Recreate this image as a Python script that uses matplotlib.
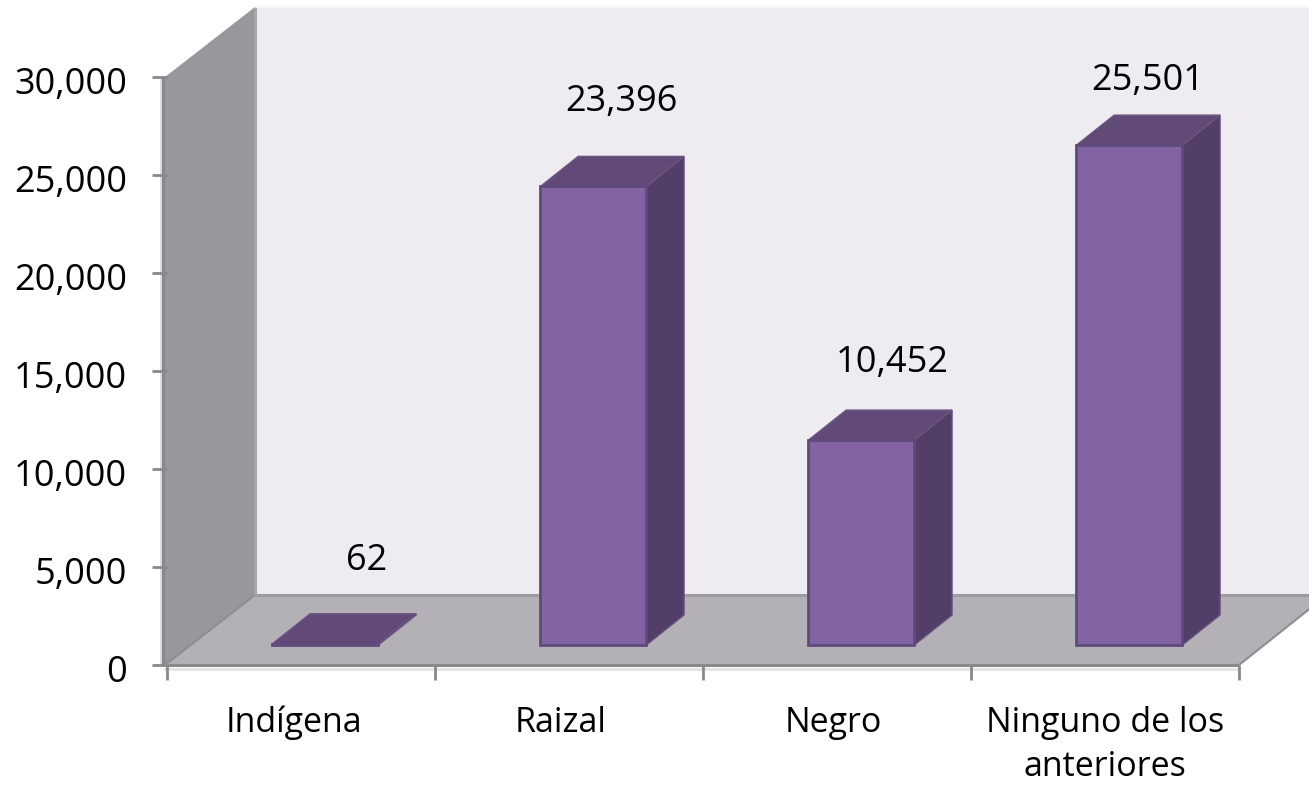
import matplotlib
matplotlib.use("Agg")
import matplotlib.pyplot as plt
from matplotlib.patches import Polygon

categories = ["Indígena", "Raizal", "Negro", "Ninguno de los\nanteriores"]
values = [62, 23396, 10452, 25501]
value_labels = ["62", "23,396", "10,452", "25,501"]
y_ticks = [0, 5000, 10000, 15000, 20000, 25000, 30000]
y_tick_labels = ["0", "5,000", "10,000", "15,000", "20,000", "25,000", "30,000"]
label_offsets = [(41, 83), (27, 84), (30, 77), (18, 64)]
cat_offsets = [-7, -8, -4, 0]

W, H = 1309, 785
plt.rcParams["font.family"] = ["Open Sans", "DejaVu Sans"]
fig = plt.figure(figsize=(W / 100, H / 100), dpi=100)
L, R, T, B = 167, 1239, 77, 665
ax = fig.add_axes([L / W, 1 - B / H, (R - L) / W, (B - T) / H])
ax.set_xlim(0, 4)
ax.set_ylim(0, 30000)
ax.axis("off")

CAT_PX = (R - L) / 4
VAL_PX = (B - T) / 30000
DX = 88 / CAT_PX      # full depth in category units
DY = 70 / VAL_PX      # full depth in value units
X_PX = 1 / CAT_PX
Y_PX = 1 / VAL_PX


def p(x, v, d=0.0):
    return (x + d * DX, v + d * DY)


def poly(points, fc, ec="none", lw=0.0, z=1):
    ax.add_patch(Polygon(points, closed=True, fc=fc, ec=ec, lw=lw, zorder=z,
                         clip_on=False, joinstyle="miter"))


def seg(a, b, color, lw, z=3):
    ax.plot([a[0], b[0]], [a[1], b[1]], color=color, lw=lw, zorder=z, clip_on=False,
            solid_capstyle="butt")


# walls
poly([(-2 * X_PX, 0), (-2 * X_PX, 30000), p(0, 30000, 1), p(0, 0, 1)], "#99979b", z=1)
poly([p(0, 0, 1), p(0, 30000, 1), p(4, 30000, 1), p(4, 0, 1)], "#eeebf1", z=1)
poly([(-2 * X_PX, 0), p(0, 0, 1), p(4, 0, 1), p(4, 0)], "#b3b1b5", z=2)
seg(p(0, 0, 1), p(4, 0, 1), "#9d9b9f", 2.2)
seg(p(0, 0, 1), p(0, 30000, 1), "#a8a6aa", 2.2)
seg((-2 * X_PX, 0), p(0, 0, 1), "#8f8d91", 1.5)
seg(p(4, 0), p(4, 0, 1), "#8f8d91", 1.5)
seg(p(0, 30000, 1), p(4, 30000, 1), "#f6f5f7", 1.5)

# axis shadows, lines and ticks
AX_X = -4 * X_PX
seg((-6.5 * X_PX, 0), (-6.5 * X_PX, 30000), "#dcdcdc", 2.0, z=3)
seg((-4 * X_PX, -3.5 * Y_PX), (4, -3.5 * Y_PX), "#e2e2e2", 2.0, z=3)
seg((AX_X, 0), (AX_X, 30000), "#8a888c", 2.2, z=4)
seg((AX_X, 0), (4, 0), "#8a888c", 2.2, z=4)
for t, lab in zip(y_ticks, y_tick_labels):
    seg((-15 * X_PX, t), (0, t), "#8a888c", 2.0, z=4)
    ax.annotate(lab, xy=(0, t), xytext=(-40, -17), textcoords="offset pixels",
                ha="right", va="baseline", fontsize=26, color="black", annotation_clip=False)
for i in range(5):
    seg((i, 0), (i, -15 * Y_PX), "#8a888c", 2.0, z=4)

# bars
BAR_W = 0.395
BAR_SHIFT = -0.003
D0, D1 = 0.285, 0.715
for i, (v, lab, off) in enumerate(zip(values, value_labels, label_offsets)):
    x0 = i + 0.5 + BAR_SHIFT - BAR_W / 2
    x1 = i + 0.5 + BAR_SHIFT + BAR_W / 2
    edge = "#5f4a7c"
    poly([p(x1, 0, D0), p(x1, v, D0), p(x1, v, D1), p(x1, 0, D1)], "#523e66", "#64507c", 1.0, z=5)
    poly([p(x0, v, D0), p(x0, v, D1), p(x1, v, D1), p(x1, v, D0)], "#614a77", "#6a5580", 1.0, z=5)
    poly([p(x0, 0, D0), p(x0, v, D0), p(x1, v, D0), p(x1, 0, D0)], "#8264a2", edge, 2.0, z=6)
    ax.annotate(lab, xy=p(i + 0.5, v, D0), xytext=off, textcoords="offset pixels",
                ha="center", va="center", fontsize=26, color="black",
                annotation_clip=False, zorder=7)
    for line_no, line in enumerate(categories[i].split("\n")):
        ax.annotate(line, xy=(i + 0.5, 0), xytext=(cat_offsets[i], -67 - 44 * line_no),
                    textcoords="offset pixels", ha="center", va="baseline", fontsize=24.5,
                    color="black", annotation_clip=False)

fig.savefig("out.png", dpi=100)
